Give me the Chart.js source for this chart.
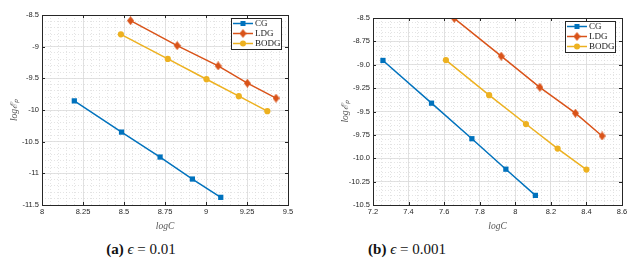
<!DOCTYPE html>
<html><head><meta charset="utf-8">
<script src="https://cdn.jsdelivr.net/npm/chart.js@4"></script>
<style>
html,body{margin:0;padding:0;background:#fff;width:642px;height:266px;overflow:hidden}
.box{position:absolute;top:0;width:321px;height:232px}
.cap{position:absolute;top:241px;font-family:"Liberation Serif","Times New Roman",serif;font-size:15px;color:#111;white-space:nowrap;transform:translateX(-50%)}
.cap b{font-weight:bold}
</style></head><body>
<div class="box" style="left:0"><canvas id="ca" width="321" height="232"></canvas></div>
<div class="box" style="left:321px"><canvas id="cb" width="321" height="232"></canvas></div>
<div class="cap" style="left:141px"><b>(a)</b> <i>ϵ</i> = 0.01</div>
<div class="cap" style="left:407px"><b>(b)</b> <i>ϵ</i> = 0.001</div>
<script>
// ---- data: panel (a) eps = 0.01
const seriesNames = ['CG','LDG','BODG'];
const aCG_x   = [8.197, 8.485, 8.720, 8.917, 9.090];
const aCG_y   = [-9.856, -10.349, -10.743, -11.090, -11.379];
const aLDG_x  = [8.540, 8.824, 9.074, 9.252, 9.427];
const aLDG_y  = [-8.589, -8.983, -9.304, -9.577, -9.813];
const aBODG_x = [8.481, 8.767, 9.003, 9.200, 9.374];
const aBODG_y = [-8.805, -9.194, -9.514, -9.782, -10.018];
const aXTicks = [8, 8.25, 8.5, 8.75, 9, 9.25, 9.5];
const aXLabels = ['8','8.25','8.5','8.75','9','9.25','9.5'];
const aYTicks = [-11.5, -11, -10.5, -10, -9.5, -9, -8.5];
const aYLabels = ['-11.5','-11','-10.5','-10','-9.5','-9','-8.5'];
// ---- data: panel (b) eps = 0.001
const bCG_x   = [7.256, 7.529, 7.756, 7.947, 8.113];
const bCG_y   = [-8.954, -9.411, -9.791, -10.117, -10.397];
const bLDG_x  = [7.657, 7.921, 8.138, 8.338, 8.488];
const bLDG_y  = [-8.504, -8.908, -9.241, -9.518, -9.762];
const bBODG_x = [7.610, 7.853, 8.060, 8.238, 8.400];
const bBODG_y = [-8.950, -9.325, -9.634, -9.897, -10.121];
const bXTicks = [7.2, 7.4, 7.6, 7.8, 8, 8.2, 8.4, 8.6];
const bXLabels = ['7.2','7.4','7.6','7.8','8','8.2','8.4','8.6'];
const bYTicks = [-10.5, -10.25, -10, -9.75, -9.5, -9.25, -9, -8.75, -8.5];
const bYLabels = ['-10.5','-10.25','-10.0','-9.75','-9.5','-9.25','-9.0','-8.75','-8.5'];

const colors = ['#0072BD','#D95319','#EDB120'];

// diamond marker (taller than wide)
function diamond(color){
  const c = document.createElement('canvas'); c.width = 7; c.height = 9;
  const g = c.getContext('2d'); g.fillStyle = color;
  g.beginPath(); g.moveTo(3.5,0); g.lineTo(7,4.5); g.lineTo(3.5,9); g.lineTo(0,4.5); g.closePath(); g.fill();
  return c;
}
const styles = ['rect', diamond(colors[1]), 'circle'];
const radii = [3.7, 4, 3.1];

function pts(xs, ys){ return xs.map((x,i)=>({x:x, y:ys[i]})); }

const framePlugin = {
  id:'frame',
  afterDraw(chart){
    const a = chart.chartArea, ctx = chart.ctx;
    ctx.save();
    ctx.strokeStyle = '#262626'; ctx.lineWidth = 1;
    ctx.strokeRect(Math.round(a.left)+0.5, Math.round(a.top)+0.5, Math.round(a.right-a.left), Math.round(a.bottom-a.top));
    // inside tick marks
    const xs = chart.scales.x, ys = chart.scales.y;
    ctx.beginPath();
    xs.ticks.forEach(t=>{ const p = Math.round(xs.getPixelForValue(t.value))+0.5;
      ctx.moveTo(p, a.bottom); ctx.lineTo(p, a.bottom-3); ctx.moveTo(p, a.top); ctx.lineTo(p, a.top+3); });
    ys.ticks.forEach(t=>{ const p = Math.round(ys.getPixelForValue(t.value))+0.5;
      ctx.moveTo(a.left, p); ctx.lineTo(a.left+3, p); ctx.moveTo(a.right, p); ctx.lineTo(a.right-3, p); });
    ctx.stroke();
    // legend
    const w = 50, h = 31, lx = Math.round(a.right) - 7 - w, ly = Math.round(a.top) + 3;
    ctx.fillStyle = '#fff'; ctx.fillRect(lx, ly, w, h);
    ctx.strokeStyle = '#262626'; ctx.strokeRect(lx+0.5, ly+0.5, w, h);
    chart.data.datasets.forEach((ds,i)=>{
      const yy = ly + 5.5 + i*10;
      ctx.strokeStyle = ds.borderColor; ctx.lineWidth = 1.5;
      ctx.beginPath(); ctx.moveTo(lx+2, yy); ctx.lineTo(lx+22, yy); ctx.stroke();
      const st = ds.pointStyle;
      ctx.fillStyle = ds.backgroundColor;
      if (st === 'rect'){ ctx.fillRect(lx+12-2.5, yy-2.5, 5, 5); }
      else if (st === 'circle'){ ctx.beginPath(); ctx.arc(lx+12, yy, 3, 0, Math.PI*2); ctx.fill(); }
      else { ctx.drawImage(st, lx+12-3.5, yy-4.5); }
      ctx.fillStyle = '#222'; ctx.font = '9px "Liberation Serif", serif';
      ctx.textBaseline = 'middle'; ctx.fillText(ds.label, lx+24, yy+0.5);
    });
    ctx.restore();
  }
};

function makeChart(id, sets, xT, xL, yT, yL, xMinor, yMinor, yAxisW, yTitlePad, pad){
  const ds = sets.map((s,i)=>({
    label: seriesNames[i], data: pts(s[0], s[1]),
    borderColor: colors[i], backgroundColor: colors[i],
    borderWidth: 1.5, showLine: true,
    pointStyle: styles[i], pointRadius: radii[i], pointHoverRadius: radii[i], pointBorderWidth: 0
  }));
  const tickFont = {family:'"Liberation Sans", Arial, sans-serif', size: 7.5};
  const titleFont = {family:'"Liberation Serif", serif', size: 9.5, style:'italic'};
  return new Chart(document.getElementById(id), {
    type: 'scatter',
    data: {datasets: ds},
    options: {
      responsive: false, animation: false, devicePixelRatio: 1,
      layout: {padding: pad},
      plugins: {legend:{display:false}, tooltip:{enabled:false}},
      scales: {
        xm: {type:'linear', position:'bottom', min:xT[0], max:xT[xT.length-1], z:-2,
          ticks:{display:false, stepSize:xMinor}, border:{display:false, dash:[1,2]},
          grid:{color:'#d8d8d8', lineWidth:0.7, drawTicks:false, tickLength:0},
          afterFit(s){ s.height = 0; }},
        ym: {type:'linear', position:'left', min:yT[0], max:yT[yT.length-1], z:-2,
          ticks:{display:false, stepSize:yMinor}, border:{display:false, dash:[1,2]},
          grid:{color:'#d8d8d8', lineWidth:0.7, drawTicks:false, tickLength:0},
          afterFit(s){ s.width = 0; }},
        x: {type:'linear', position:'bottom', min:xT[0], max:xT[xT.length-1], z:-1,
          afterBuildTicks(s){ s.ticks = xT.map(v=>({value:v})); },
          ticks:{font:tickFont, color:'#262626', padding:2, maxRotation:0, autoSkip:false,
            callback:(v,i)=>xL[i]},
          grid:{color:'#dadada', lineWidth:0.8, drawTicks:false},
          border:{display:false},
          title:{display:true, text:'logC', font:titleFont, color:'#555', padding:{top:1,bottom:0}},
          afterFit(s){ s.height = 27; }},
        y: {type:'linear', position:'left', min:yT[0], max:yT[yT.length-1], z:-1,
          afterBuildTicks(s){ s.ticks = yT.map(v=>({value:v})); },
          ticks:{font:tickFont, color:'#262626', padding:3, autoSkip:false,
            callback:(v,i)=>yL[i]},
          grid:{color:'#dadada', lineWidth:0.8, drawTicks:false},
          border:{display:false},
          title:{display:true, text:'logℰₚ', font:titleFont, color:'#555', padding:{top:yTitlePad,bottom:0}},
          afterFit(s){ s.width = yAxisW; }}
      }
    },
    plugins: [framePlugin]
  });
}

makeChart('ca', [[aCG_x,aCG_y],[aLDG_x,aLDG_y],[aBODG_x,aBODG_y]],
  aXTicks, aXLabels, aYTicks, aYLabels, 0.05, 0.1, 42, 9, {left:0, right:33, top:15, bottom:0});
makeChart('cb', [[bCG_x,bCG_y],[bLDG_x,bLDG_y],[bBODG_x,bBODG_y]],
  bXTicks, bXLabels, bYTicks, bYLabels, 0.05, 0.05, 52, 19, {left:0, right:20, top:18, bottom:0});
</script>
</body></html>
